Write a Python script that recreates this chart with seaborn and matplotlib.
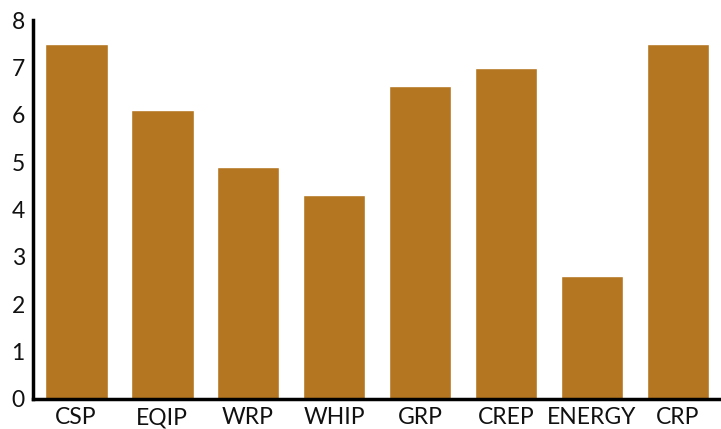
import pandas as pd
import seaborn as sns
import matplotlib.pyplot as plt

# program names and values
programs = ["CSP", "EQIP", "WRP", "WHIP", "GRP", "CREP", "ENERGY", "CRP"]
values = [7.5, 6.1, 4.9, 4.3, 6.6, 7.0, 2.6, 7.5]
y_ticks = [0, 1, 2, 3, 4, 5, 6, 7, 8]

df = pd.DataFrame({"Program": programs, "Value": values})

sns.set_style("white")
plt.rcParams["font.family"] = ["Lato", "DejaVu Sans"]

fig = plt.figure(figsize=(7.21, 4.29), dpi=100)
ax = fig.add_axes([0.046, 0.07, 0.954, 0.883])

sns.barplot(data=df, x="Program", y="Value", color="#b57621",
            saturation=1, width=0.73, ax=ax)

ax.set_xlim(-0.5, 7.5)
ax.set_ylim(0, 8)
ax.set_yticks(y_ticks)
ax.set_xlabel("")
ax.set_ylabel("")
ax.tick_params(axis="both", length=0, labelsize=16.5, colors="#111111", pad=6)

sns.despine(ax=ax)
for side in ["left", "bottom"]:
    ax.spines[side].set_linewidth(2.5)
    ax.spines[side].set_color("black")

fig.savefig("out.png", dpi=100)
